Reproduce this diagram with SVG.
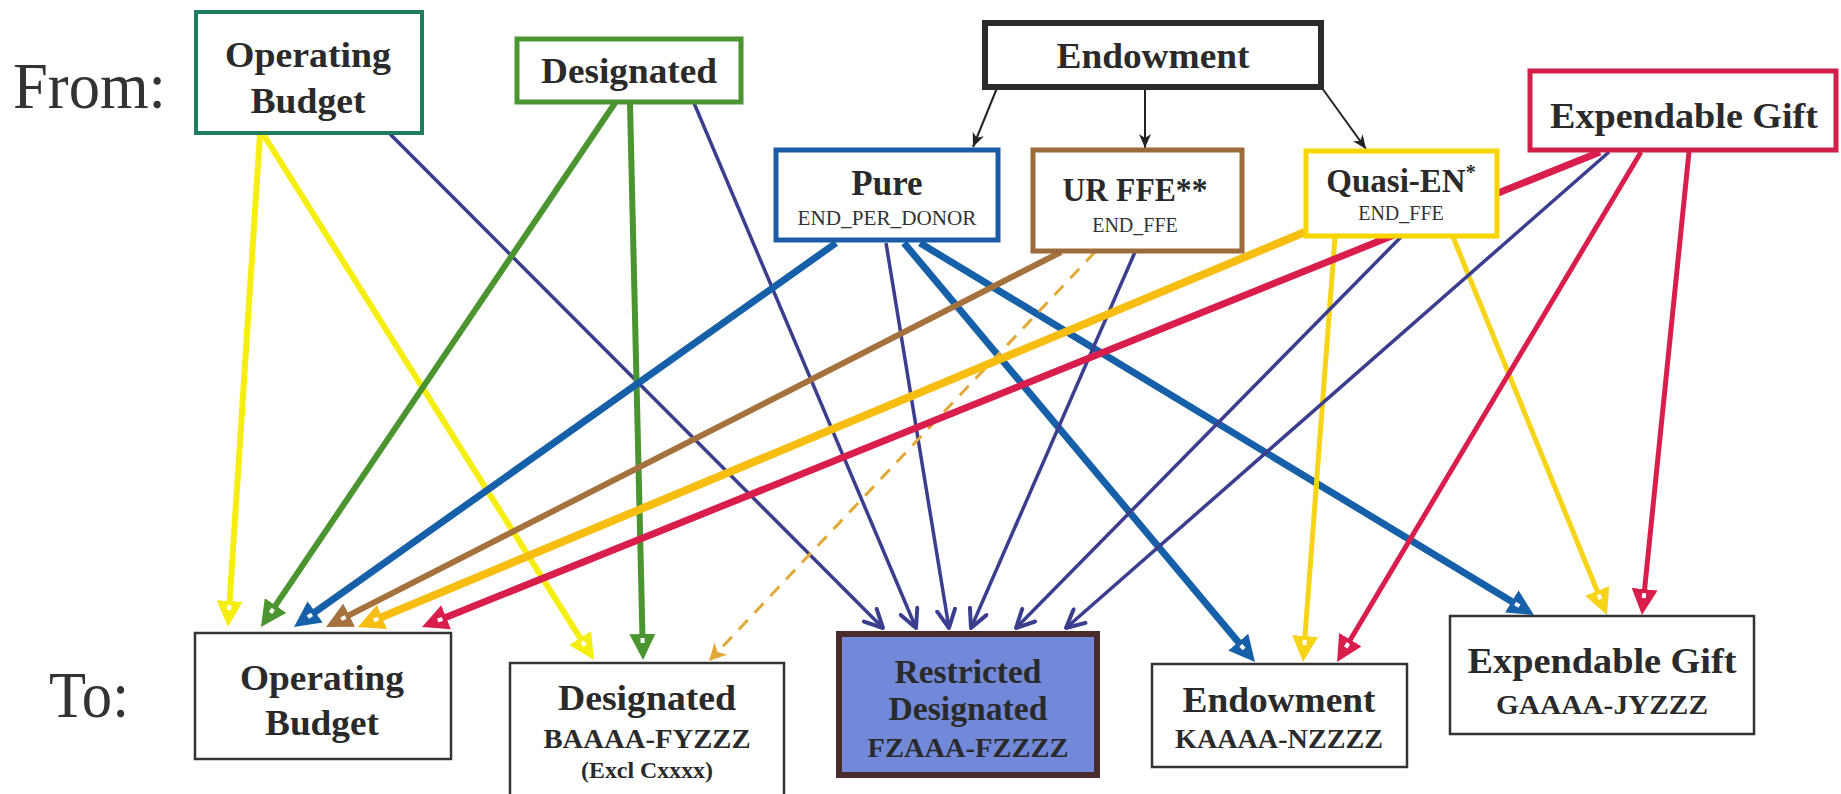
<svg xmlns="http://www.w3.org/2000/svg" width="1841" height="794" viewBox="0 0 1841 794">
<style>
.t{font-family:"Liberation Serif","Times New Roman",serif;font-weight:bold;fill:#2a2a2a;text-anchor:middle}
.s{font-family:"Liberation Serif","Times New Roman",serif;fill:#333;text-anchor:middle}
.big{font-family:"Liberation Serif","Times New Roman",serif;fill:#333}
.box{fill:#fff}
.bot{fill:#fff;stroke:#333;stroke-width:2.5}
.c{fill:none;stroke-linecap:butt}
</style>
<defs>
<marker id="mY" viewBox="0 0 26 26" refX="12" refY="13" markerWidth="26" markerHeight="26" markerUnits="userSpaceOnUse" orient="auto"><path d="M0,0 L26,13 L0,26 z" fill="#f6ee10"/><rect x="4" y="11" width="5" height="4" fill="#fff"/></marker>
<marker id="mG" viewBox="0 0 26 26" refX="12" refY="13" markerWidth="26" markerHeight="26" markerUnits="userSpaceOnUse" orient="auto"><path d="M0,0 L26,13 L0,26 z" fill="#4a9530"/><rect x="4" y="11" width="5" height="4" fill="#fff"/></marker>
<marker id="mB" viewBox="0 0 26 26" refX="12" refY="13" markerWidth="26" markerHeight="26" markerUnits="userSpaceOnUse" orient="auto"><path d="M0,0 L26,13 L0,26 z" fill="#1560a8"/><rect x="4" y="11" width="5" height="4" fill="#fff"/></marker>
<marker id="mBr" viewBox="0 0 26 26" refX="12" refY="13" markerWidth="26" markerHeight="26" markerUnits="userSpaceOnUse" orient="auto"><path d="M0,0 L26,13 L0,26 z" fill="#a5713d"/><rect x="4" y="11" width="5" height="4" fill="#fff"/></marker>
<marker id="mGo" viewBox="0 0 26 26" refX="12" refY="13" markerWidth="26" markerHeight="26" markerUnits="userSpaceOnUse" orient="auto"><path d="M0,0 L26,13 L0,26 z" fill="#f7bd10"/><rect x="4" y="11" width="5" height="4" fill="#fff"/></marker>
<marker id="mQ" viewBox="0 0 26 26" refX="12" refY="13" markerWidth="26" markerHeight="26" markerUnits="userSpaceOnUse" orient="auto"><path d="M0,0 L26,13 L0,26 z" fill="#f7d417"/><rect x="4" y="11" width="5" height="4" fill="#fff"/></marker>
<marker id="mR" viewBox="0 0 26 26" refX="12" refY="13" markerWidth="26" markerHeight="26" markerUnits="userSpaceOnUse" orient="auto"><path d="M0,0 L26,13 L0,26 z" fill="#d91e4e"/><rect x="4" y="11" width="5" height="4" fill="#fff"/></marker>
<marker id="mN" viewBox="0 0 22 22" refX="20" refY="11" markerWidth="22" markerHeight="22" markerUnits="userSpaceOnUse" orient="auto"><path d="M2,2 L20,11 L2,20" fill="none" stroke="#3b3e8e" stroke-width="4" stroke-linejoin="round" stroke-linecap="round"/></marker>
<marker id="mK" viewBox="0 0 14 12" refX="14" refY="6" markerWidth="14" markerHeight="12" markerUnits="userSpaceOnUse" orient="auto"><path d="M0,0 L14,6 L0,12 L4,6 z" fill="#222"/></marker>
<marker id="mD" viewBox="0 0 18 18" refX="16" refY="9" markerWidth="18" markerHeight="18" markerUnits="userSpaceOnUse" orient="auto"><path d="M0,0 L17,9 L0,18 L5,9 z" fill="#e2a838"/></marker>
</defs>
<rect width="1841" height="794" fill="#fff"/>
<text class="big" x="13" y="108" font-size="66" textLength="153" lengthAdjust="spacingAndGlyphs">From:</text>
<text class="big" x="49" y="717" font-size="66" textLength="80" lengthAdjust="spacingAndGlyphs">To:</text>
<g id="connectors">
<line class="c" x1="260" y1="134" x2="228.9" y2="613" stroke="#f6ee10" stroke-width="6" marker-end="url(#mY)"/>
<line class="c" x1="263" y1="134" x2="586.5" y2="648.2" stroke="#f6ee10" stroke-width="6" marker-end="url(#mY)"/>
<line class="c" x1="390" y1="134" x2="883" y2="628" stroke="#3b3e8e" stroke-width="3.5" marker-end="url(#mN)"/>
<line class="c" x1="615" y1="103" x2="268.8" y2="615.4" stroke="#4a9530" stroke-width="6" marker-end="url(#mG)"/>
<line class="c" x1="630" y1="103" x2="642.7" y2="646" stroke="#4a9530" stroke-width="6" marker-end="url(#mG)"/>
<line class="c" x1="694" y1="103" x2="916" y2="628" stroke="#3b3e8e" stroke-width="3.5" marker-end="url(#mN)"/>
<line class="c" x1="997" y1="88" x2="973" y2="147" stroke="#222" stroke-width="2" marker-end="url(#mK)"/>
<line class="c" x1="1145" y1="88" x2="1145" y2="148" stroke="#222" stroke-width="2" marker-end="url(#mK)"/>
<line class="c" x1="1322" y1="88" x2="1366" y2="149" stroke="#222" stroke-width="2" marker-end="url(#mK)"/>
<line class="c" x1="836" y1="243" x2="305.4" y2="618.9" stroke="#1560a8" stroke-width="7" marker-end="url(#mB)"/>
<line class="c" x1="886" y1="243" x2="949" y2="628" stroke="#3b3e8e" stroke-width="3.5" marker-end="url(#mN)"/>
<line class="c" x1="904" y1="243" x2="1246" y2="651.3" stroke="#1560a8" stroke-width="7" marker-end="url(#mB)"/>
<line class="c" x1="920" y1="243" x2="1522" y2="607.7" stroke="#1560a8" stroke-width="7" marker-end="url(#mB)"/>
<line class="c" x1="1061" y1="252" x2="338.5" y2="620.6" stroke="#a5713d" stroke-width="6" marker-end="url(#mBr)"/>
<line class="c" x1="1095" y1="252" x2="710" y2="660" stroke="#e2a838" stroke-width="3" stroke-dasharray="13 10" marker-end="url(#mD)"/>
<line class="c" x1="1135" y1="252" x2="971" y2="628" stroke="#3b3e8e" stroke-width="3.5" marker-end="url(#mN)"/>
<line class="c" x1="1305" y1="232" x2="370.9" y2="621.6" stroke="#f7bd10" stroke-width="8" marker-end="url(#mGo)"/>
<line class="c" x1="1335" y1="237" x2="1304.1" y2="648" stroke="#f7d417" stroke-width="5" marker-end="url(#mQ)"/>
<line class="c" x1="1401" y1="237" x2="1016" y2="628" stroke="#3b3e8e" stroke-width="3.5" marker-end="url(#mN)"/>
<line class="c" x1="1453" y1="237" x2="1601.7" y2="602" stroke="#f7d417" stroke-width="5" marker-end="url(#mQ)"/>
<line class="c" x1="1600" y1="152" x2="435" y2="621.8" stroke="#d91e4e" stroke-width="7" marker-end="url(#mR)"/>
<line class="c" x1="1609" y1="152" x2="1066" y2="628" stroke="#3b3e8e" stroke-width="3.5" marker-end="url(#mN)"/>
<line class="c" x1="1641" y1="152" x2="1344.2" y2="650" stroke="#d91e4e" stroke-width="5" marker-end="url(#mR)"/>
<line class="c" x1="1689" y1="152" x2="1643.4" y2="601.1" stroke="#d91e4e" stroke-width="5" marker-end="url(#mR)"/>
</g>
<g id="from-operating-budget">
<rect class="box" x="196" y="12" width="226" height="121" stroke="#1e7d5e" stroke-width="4"/>
<text class="t" x="308" y="67" font-size="35" textLength="166" lengthAdjust="spacingAndGlyphs">Operating</text>
<text class="t" x="308" y="113" font-size="35" textLength="115" lengthAdjust="spacingAndGlyphs">Budget</text>
</g>
<g id="from-designated">
<rect class="box" x="517" y="39" width="224" height="63" stroke="#4a9530" stroke-width="5"/>
<text class="t" x="629" y="83" font-size="36" textLength="176" lengthAdjust="spacingAndGlyphs">Designated</text>
</g>
<g id="from-endowment">
<rect class="box" x="985" y="23" width="336" height="64" stroke="#2b2b2b" stroke-width="6"/>
<text class="t" x="1153" y="68" font-size="35" textLength="193" lengthAdjust="spacingAndGlyphs">Endowment</text>
</g>
<g id="from-expendable-gift">
<rect class="box" x="1530" y="71" width="306" height="79" stroke="#d21f4a" stroke-width="5"/>
<text class="t" x="1684" y="128" font-size="36" textLength="268" lengthAdjust="spacingAndGlyphs">Expendable Gift</text>
</g>
<g id="pure">
<rect class="box" x="776" y="150" width="222" height="90" stroke="#1a5ca8" stroke-width="5"/>
<text class="t" x="887" y="195" font-size="35">Pure</text>
<text class="s" x="887" y="225" font-size="20" textLength="179" lengthAdjust="spacingAndGlyphs">END_PER_DONOR</text>
</g>
<g id="ur-ffe">
<rect class="box" x="1033" y="150" width="209" height="101" stroke="#9c6b3b" stroke-width="5"/>
<text class="t" x="1135" y="201" font-size="34" textLength="145" lengthAdjust="spacingAndGlyphs">UR FFE**</text>
<text class="s" x="1135" y="232" font-size="20">END_FFE</text>
</g>
<g id="quasi-en">
<rect class="box" x="1306" y="151" width="191" height="85" stroke="#f7d600" stroke-width="5"/>
<text class="t" x="1401" y="192" font-size="33">Quasi-EN<tspan font-size="20" dy="-13">*</tspan></text>
<text class="s" x="1401" y="220" font-size="20">END_FFE</text>
</g>
<g id="to-operating-budget">
<rect class="bot" x="195" y="633" width="256" height="126"/>
<text class="t" x="322" y="690" font-size="35" textLength="164" lengthAdjust="spacingAndGlyphs">Operating</text>
<text class="t" x="322" y="735" font-size="35" textLength="114" lengthAdjust="spacingAndGlyphs">Budget</text>
</g>
<g id="to-designated">
<rect class="bot" x="510" y="663" width="274" height="140"/>
<text class="t" x="647" y="710" font-size="35" textLength="178" lengthAdjust="spacingAndGlyphs">Designated</text>
<text class="t" x="647" y="748" font-size="28" textLength="207" lengthAdjust="spacingAndGlyphs">BAAAA-FYZZZ</text>
<text class="t" x="647" y="778" font-size="23" textLength="132" lengthAdjust="spacingAndGlyphs">(Excl Cxxxx)</text>
</g>
<g id="to-restricted-designated">
<rect x="839" y="634" width="258" height="141" fill="#7189d8" stroke="#4a2c2c" stroke-width="6"/>
<text class="t" x="968" y="683" font-size="34" textLength="147" lengthAdjust="spacingAndGlyphs">Restricted</text>
<text class="t" x="968" y="720" font-size="34" textLength="159" lengthAdjust="spacingAndGlyphs">Designated</text>
<text class="t" x="968" y="757" font-size="28" textLength="201" lengthAdjust="spacingAndGlyphs">FZAAA-FZZZZ</text>
</g>
<g id="to-endowment">
<rect class="bot" x="1152" y="664" width="255" height="103"/>
<text class="t" x="1279" y="712" font-size="35" textLength="193" lengthAdjust="spacingAndGlyphs">Endowment</text>
<text class="t" x="1279" y="748" font-size="28" textLength="208" lengthAdjust="spacingAndGlyphs">KAAAA-NZZZZ</text>
</g>
<g id="to-expendable-gift">
<rect class="bot" x="1450" y="616" width="304" height="118"/>
<text class="t" x="1602" y="673" font-size="36" textLength="269" lengthAdjust="spacingAndGlyphs">Expendable Gift</text>
<text class="t" x="1602" y="714" font-size="28" textLength="212" lengthAdjust="spacingAndGlyphs">GAAAA-JYZZZ</text>
</g>
</svg>
